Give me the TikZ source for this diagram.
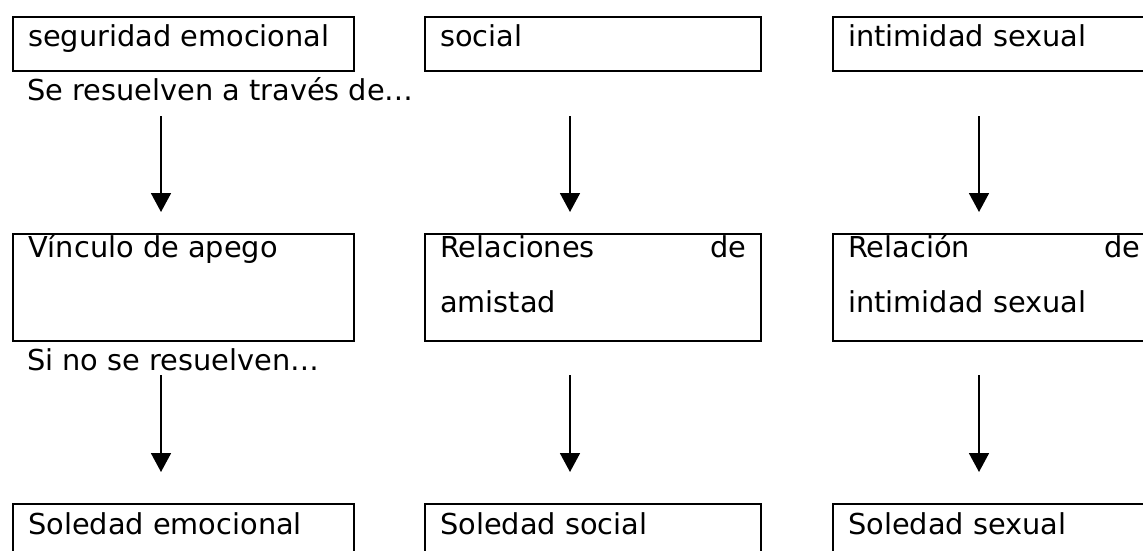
\documentclass[tikz,border=0pt]{standalone}
\usepackage{fontspec}
\setmainfont{DejaVu Sans}
\usetikzlibrary{arrows.meta}

\begin{document}
\begin{tikzpicture}[
    x=1pt, y=-1pt,
    caja/.style={draw, line width=2.4pt, anchor=north west, inner xsep=15pt, inner ysep=0pt,
                 align=justify, font=\fontsize{28.8}{55}\selectfont},
    arriba/.style={caja, text height=29pt, text depth=25pt},
    medio/.style={caja, text height=23.5pt, text depth=83.5pt},
    abajo/.style={caja, text height=30pt, text depth=30pt},
    texto/.style={anchor=base west, inner sep=0pt, font=\fontsize{28.8}{55}\selectfont},
    flecha/.style={line width=1.8pt, -{Triangle[width=20pt,length=19pt]}}]
    % Rahmen
    \useasboundingbox (0, 0) rectangle (1143, 551);
    \clip (0, 0) rectangle (1143, 551);

    % Necesidades
    \node[arriba, text width=311pt] (seg) at (12, 16) {seguridad emocional};
    \node[arriba, text width=306pt] (soc) at (424, 16) {social};
    \node[arriba, text width=292pt] (int) at (832, 16) {intimidad sexual};
    \node[texto] (atraves) at (27, 100) {Se resuelven a través de…};

    % Vinculos
    \node[medio, text width=311pt] (vin) at (12, 233) {Vínculo de apego};
    \node[medio, text width=306pt] (ami) at (424, 233) {Relaciones\hfill de\\amistad};
    \node[medio, text width=292pt] (rel) at (832, 233) {Relación\hfill de\\intimidad sexual};
    \node[texto] (sino) at (27, 370) {Si no se resuelven…};

    % Soledad
    \node[abajo, text width=311pt] (sole) at (12, 503) {Soledad emocional};
    \node[abajo, text width=306pt] (sols) at (424, 503) {Soledad social};
    \node[abajo, text width=292pt] (solx) at (832, 503) {Soledad sexual};

    % Flechas
    \coordinate (f1a) at (161, 116);  \coordinate (f1b) at (161, 212);
    \coordinate (f2a) at (570, 116);  \coordinate (f2b) at (570, 212);
    \coordinate (f3a) at (979, 116);  \coordinate (f3b) at (979, 212);
    \coordinate (f4a) at (161, 375);  \coordinate (f4b) at (161, 472);
    \coordinate (f5a) at (570, 375);  \coordinate (f5b) at (570, 472);
    \coordinate (f6a) at (979, 375);  \coordinate (f6b) at (979, 472);
    \draw[flecha] (f1a) -- (f1b);
    \draw[flecha] (f2a) -- (f2b);
    \draw[flecha] (f3a) -- (f3b);
    \draw[flecha] (f4a) -- (f4b);
    \draw[flecha] (f5a) -- (f5b);
    \draw[flecha] (f6a) -- (f6b);
\end{tikzpicture}
\end{document}
